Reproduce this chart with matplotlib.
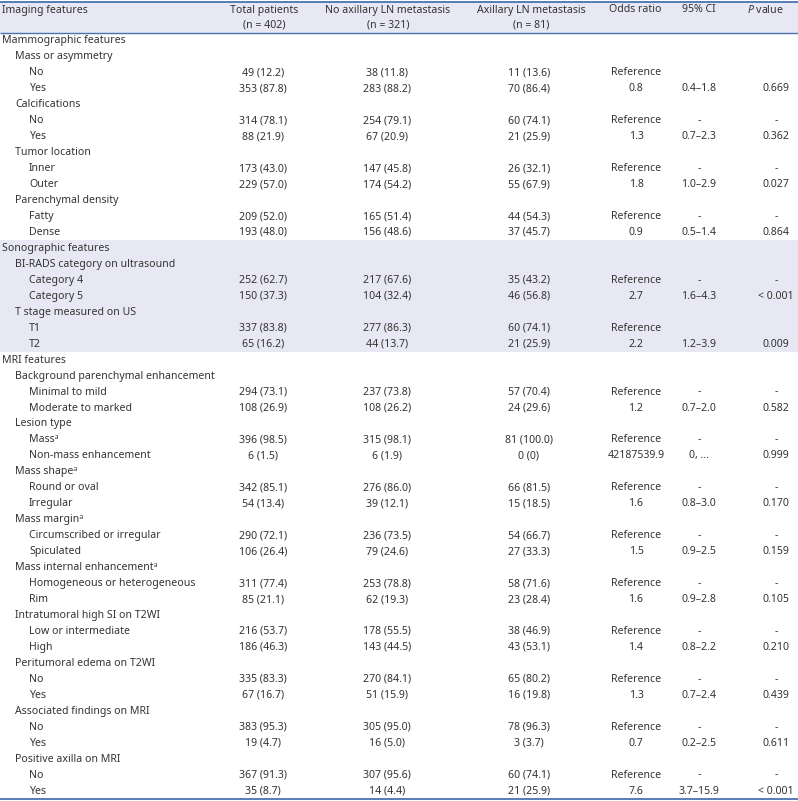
import matplotlib
matplotlib.use("Agg")
import matplotlib.pyplot as plt

plt.rcParams['font.family'] = ['Noto Sans', 'DejaVu Sans']
plt.rcParams['mathtext.fontset'] = 'custom'
plt.rcParams['mathtext.rm'] = 'Noto Sans'
plt.rcParams['mathtext.it'] = 'Noto Sans:italic'

headers = ["Imaging features", "Total patients\n(n = 402)", "No axillary LN metastasis\n(n = 321)",
           "Axillary LN metastasis\n(n = 81)", "Odds ratio", "95% CI", r"$\it{P}$ value"]

labels = ["Mammographic features", "Mass or asymmetry", "No", "Yes", "Calcifications", "No", "Yes",
          "Tumor location", "Inner", "Outer", "Parenchymal density", "Fatty", "Dense",
          "Sonographic features", "BI-RADS category on ultrasound", "Category 4", "Category 5",
          "T stage measured on US", "T1", "T2",
          "MRI features", "Background parenchymal enhancement", "Minimal to mild", "Moderate to marked",
          "Lesion type", "Mass\u1d43", "Non-mass enhancement", "Mass shape\u1d43", "Round or oval", "Irregular",
          "Mass margin\u1d43", "Circumscribed or irregular", "Spiculated", "Mass internal enhancement\u1d43",
          "Homogeneous or heterogeneous", "Rim", "Intratumoral high SI on T2WI", "Low or intermediate", "High",
          "Peritumoral edema on T2WI", "No", "Yes", "Associated findings on MRI", "No", "Yes",
          "Positive axilla on MRI", "No", "Yes"]

levels = [0, 1, 2, 2, 1, 2, 2, 1, 2, 2, 1, 2, 2,
          0, 1, 2, 2, 1, 2, 2,
          0, 1, 2, 2, 1, 2, 2, 1, 2, 2, 1, 2, 2, 1, 2, 2, 1, 2, 2, 1, 2, 2, 1, 2, 2, 1, 2, 2]

total = ["", "", "49 (12.2)", "353 (87.8)", "", "314 (78.1)", "88 (21.9)", "", "173 (43.0)", "229 (57.0)",
         "", "209 (52.0)", "193 (48.0)",
         "", "", "252 (62.7)", "150 (37.3)", "", "337 (83.8)", "65 (16.2)",
         "", "", "294 (73.1)", "108 (26.9)", "", "396 (98.5)", "6 (1.5)", "", "342 (85.1)", "54 (13.4)",
         "", "290 (72.1)", "106 (26.4)", "", "311 (77.4)", "85 (21.1)", "", "216 (53.7)", "186 (46.3)",
         "", "335 (83.3)", "67 (16.7)", "", "383 (95.3)", "19 (4.7)", "", "367 (91.3)", "35 (8.7)"]

no_met = ["", "", "38 (11.8)", "283 (88.2)", "", "254 (79.1)", "67 (20.9)", "", "147 (45.8)", "174 (54.2)",
          "", "165 (51.4)", "156 (48.6)",
          "", "", "217 (67.6)", "104 (32.4)", "", "277 (86.3)", "44 (13.7)",
          "", "", "237 (73.8)", "108 (26.2)", "", "315 (98.1)", "6 (1.9)", "", "276 (86.0)", "39 (12.1)",
          "", "236 (73.5)", "79 (24.6)", "", "253 (78.8)", "62 (19.3)", "", "178 (55.5)", "143 (44.5)",
          "", "270 (84.1)", "51 (15.9)", "", "305 (95.0)", "16 (5.0)", "", "307 (95.6)", "14 (4.4)"]

met = ["", "", "11 (13.6)", "70 (86.4)", "", "60 (74.1)", "21 (25.9)", "", "26 (32.1)", "55 (67.9)",
       "", "44 (54.3)", "37 (45.7)",
       "", "", "35 (43.2)", "46 (56.8)", "", "60 (74.1)", "21 (25.9)",
       "", "", "57 (70.4)", "24 (29.6)", "", "81 (100.0)", "0 (0)", "", "66 (81.5)", "15 (18.5)",
       "", "54 (66.7)", "27 (33.3)", "", "58 (71.6)", "23 (28.4)", "", "38 (46.9)", "43 (53.1)",
       "", "65 (80.2)", "16 (19.8)", "", "78 (96.3)", "3 (3.7)", "", "60 (74.1)", "21 (25.9)"]

odds = ["", "", "Reference", "0.8", "", "Reference", "1.3", "", "Reference", "1.8",
        "", "Reference", "0.9",
        "", "", "Reference", "2.7", "", "Reference", "2.2",
        "", "", "Reference", "1.2", "", "Reference", "42187539.9", "", "Reference", "1.6",
        "", "Reference", "1.5", "", "Reference", "1.6", "", "Reference", "1.4",
        "", "Reference", "1.3", "", "Reference", "0.7", "", "Reference", "7.6"]

ci = ["", "", "", "0.4\u20131.8", "", "-", "0.7\u20132.3", "", "-", "1.0\u20132.9",
      "", "-", "0.5\u20131.4",
      "", "", "-", "1.6\u20134.3", "", "", "1.2\u20133.9",
      "", "", "-", "0.7\u20132.0", "", "-", "0, \u2026", "", "-", "0.8\u20133.0",
      "", "-", "0.9\u20132.5", "", "-", "0.9\u20132.8", "", "-", "0.8\u20132.2",
      "", "-", "0.7\u20132.4", "", "-", "0.2\u20132.5", "", "-", "3.7\u201315.9"]

pval = ["", "", "", "0.669", "", "-", "0.362", "", "-", "0.027",
        "", "-", "0.864",
        "", "", "-", "< 0.001", "", "", "0.009",
        "", "", "-", "0.582", "", "-", "0.999", "", "-", "0.170",
        "", "-", "0.159", "", "-", "0.105", "", "-", "0.210",
        "", "-", "0.439", "", "-", "0.611", "", "-", "< 0.001"]

shaded_rows = [13, 14, 15, 16, 17, 18, 19]

W, H = 798, 801
fig = plt.figure(figsize=(W / 100, H / 100), dpi=100)
ax = fig.add_axes([0, 0, 1, 1])
ax.set_xlim(0, W)
ax.set_ylim(H, 0)
ax.axis('off')

txt = '#333333'
blue = '#4a72b0'
shade = '#e8e8f4'
fs = 7.6

top, head_bot, bottom = 2, 33, 799
n = len(labels)
rh = (bottom - head_bot) / n

# header shading
ax.add_patch(plt.Rectangle((0, top), W, head_bot - top, color=shade, lw=0, zorder=0))
for r in shaded_rows:
    ax.add_patch(plt.Rectangle((0, head_bot + r * rh), W, rh + 0.3, color=shade, lw=0, zorder=0))

ax.plot([0, W], [top, top], color=blue, lw=1.3, solid_capstyle='butt')
ax.plot([0, W], [head_bot, head_bot], color=blue, lw=1.0, solid_capstyle='butt')
ax.plot([0, W], [bottom, bottom], color=blue, lw=1.3, solid_capstyle='butt')

# header
ax.text(2, 10, headers[0], ha='left', va='center', fontsize=fs, color=txt)
hx = [264, 388, 531, 635, 699, 765]
for x, h in zip(hx, headers[1:]):
    parts = h.split("\n")
    ax.text(x, 10, parts[0], ha='center', va='center', fontsize=fs, color=txt)
    if len(parts) > 1:
        ax.text(x, 25, parts[1], ha='center', va='center', fontsize=fs, color=txt)

indent = [2, 15, 29]
cols = [(263, total), (387, no_met), (529, met), (636, odds), (699, ci), (776, pval)]
for i in range(n):
    y = head_bot + (i + 0.5) * rh
    ax.text(indent[levels[i]], y, labels[i], ha='left', va='center', fontsize=fs, color=txt)
    for x, col in cols:
        if col[i]:
            ax.text(x, y, col[i], ha='center', va='center', fontsize=fs, color=txt)

fig.savefig("out.png", dpi=100)
